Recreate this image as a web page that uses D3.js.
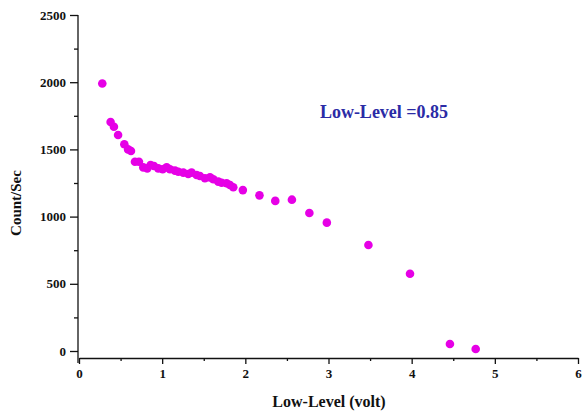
<!DOCTYPE html>
<html>
<head>
<meta charset="utf-8">
<script src="https://cdn.jsdelivr.net/npm/d3@7"></script>
<style>
  html, body { margin: 0; padding: 0; background: #fff; }
  svg { display: block; }
  .tick text { font-family: "Liberation Serif", "Times New Roman", serif; font-weight: bold; font-size: 13px; fill: #111; }
  .axis path, .axis line { stroke: #111; stroke-width: 1.3; }
</style>
</head>
<body>
<svg id="chart" width="584" height="412"></svg>
<script>
// Count rate measured against the discriminator low-level setting
const lowLevel = [0.28, 0.38, 0.42, 0.47, 0.545, 0.59, 0.625, 0.673, 0.721, 0.773,
  0.821, 0.861, 0.901, 0.953, 1.006, 1.054, 1.094, 1.154, 1.194, 1.254,
  1.314, 1.354, 1.414, 1.454, 1.514, 1.575, 1.615, 1.675, 1.715, 1.775,
  1.815, 1.855, 1.97, 2.17, 2.36, 2.56, 2.77, 2.98, 3.48, 3.98, 4.46, 4.77];
const countRate = [1990, 1704, 1669, 1607, 1538, 1500, 1488, 1408, 1408, 1366,
  1359, 1384, 1376, 1359, 1352, 1366, 1352, 1342, 1334, 1327,
  1317, 1327, 1310, 1302, 1285, 1292, 1278, 1260, 1252, 1248,
  1235, 1218, 1197, 1158, 1117, 1126, 1027, 955, 789, 575, 52, 15];

const xTicks = [0, 1, 2, 3, 4, 5, 6];
const xMinorTicks = [0.5, 1.5, 2.5, 3.5, 4.5, 5.5];
const yTicks = [0, 500, 1000, 1500, 2000, 2500];
const yMinorTicks = [250, 750, 1250, 1750, 2250];

const annotation = "Low-Level =0.85";
const xTitle = "Low-Level (volt)";
const yTitle = "Count/Sec";

const svg = d3.select("#chart");
const x = d3.scaleLinear().domain([0, 6]).range([79, 578]);
const y = d3.scaleLinear().domain([0, 2500]).range([351, 15]);
const xAxisY = 358;
const yAxisX = 78;

// x axis (offset below the zero line)
svg.append("g").attr("class", "axis")
  .attr("transform", `translate(0,${xAxisY})`)
  .call(d3.axisBottom(x).tickValues(xTicks).tickFormat(d3.format("d")).tickSize(6).tickSizeOuter(0).tickPadding(5));
svg.append("g").attr("class", "axis")
  .attr("transform", `translate(0,${xAxisY})`)
  .call(d3.axisBottom(x).tickValues(xMinorTicks).tickFormat("").tickSize(3).tickSizeOuter(0))
  .select(".domain").remove();

// y axis
const gy = svg.append("g").attr("class", "axis")
  .attr("transform", `translate(${yAxisX},0)`)
  .call(d3.axisLeft(y).tickValues(yTicks).tickFormat(d3.format("d")).tickSize(8).tickSizeOuter(0).tickPadding(4));
gy.select(".domain").remove();
gy.append("line").attr("x1", 0).attr("x2", 0)
  .attr("y1", y(2500)).attr("y2", xAxisY + 5)
  .attr("stroke", "#111").attr("stroke-width", 1.3);
svg.append("g").attr("class", "axis")
  .attr("transform", `translate(${yAxisX},0)`)
  .call(d3.axisLeft(y).tickValues(yMinorTicks).tickFormat("").tickSize(4).tickSizeOuter(0))
  .select(".domain").remove();

// data points
svg.append("g").selectAll("circle")
  .data(lowLevel.map((v, i) => [v, countRate[i]]))
  .join("circle")
  .attr("cx", d => x(d[0]))
  .attr("cy", d => y(d[1]))
  .attr("r", 4.3)
  .attr("fill", "#e600e6");

// annotation
svg.append("text")
  .attr("x", 384).attr("y", 118)
  .attr("text-anchor", "middle")
  .attr("font-family", "Liberation Serif, Times New Roman, serif")
  .attr("font-weight", "bold").attr("font-size", 18)
  .attr("fill", "#2b2ba6")
  .text(annotation);

// axis titles
svg.append("text")
  .attr("x", 329).attr("y", 407)
  .attr("text-anchor", "middle")
  .attr("font-family", "Liberation Serif, Times New Roman, serif")
  .attr("font-weight", "bold").attr("font-size", 16)
  .attr("fill", "#111")
  .text(xTitle);

svg.append("text")
  .attr("transform", "translate(21,203) rotate(-90)")
  .attr("text-anchor", "middle")
  .attr("font-family", "Liberation Serif, Times New Roman, serif")
  .attr("font-weight", "bold").attr("font-size", 15)
  .attr("fill", "#111")
  .text(yTitle);
</script>
</body>
</html>
